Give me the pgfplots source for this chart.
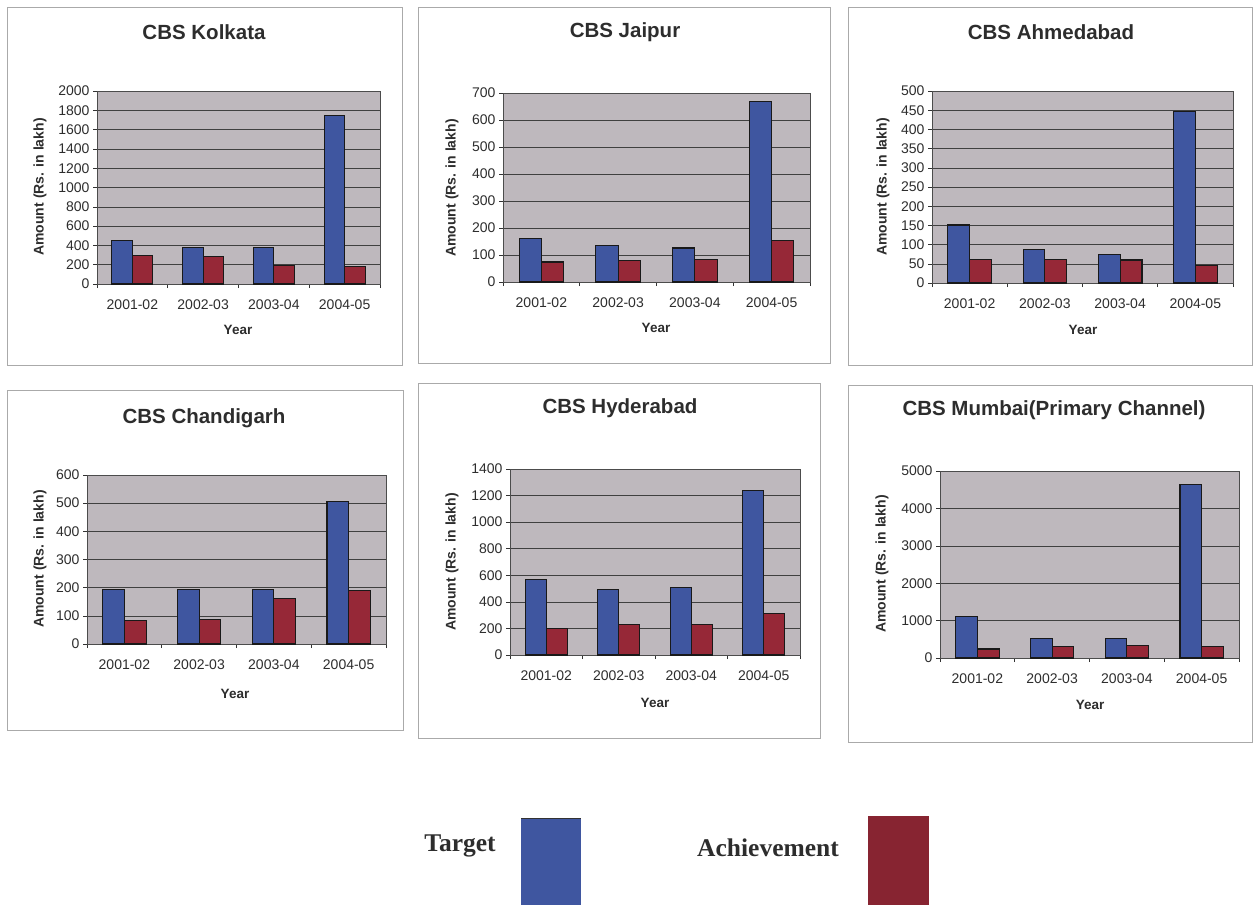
\documentclass[border=0pt]{standalone}
\usepackage{fontspec}
\setmainfont{Liberation Sans}
\newfontfamily\timesfont{Liberation Serif}
\usepackage{pgfplots}
\pgfplotsset{compat=1.18}

\definecolor{plotbg}{RGB}{190,184,189}
\definecolor{tblue}{RGB}{63,86,160}
\definecolor{tred}{RGB}{150,40,55}
\definecolor{txt}{RGB}{45,45,45}
\definecolor{frame}{RGB}{170,170,170}

\pgfplotsset{
  cbs/.style={
    scale only axis, anchor=south west,
    ybar=0pt, bar width=0.29,
    xmin=0.5, xmax=4.5, ymin=0,
    xtick={0.5,1.5,2.5,3.5,4.5},
    x tick label as interval,
    xticklabels={2001-02,2002-03,2003-04,2004-05},
    xtick pos=left, ytick pos=left,
    tick align=outside, major tick length=4pt,
    tick style={black!80, line width=0.6pt},
    ymajorgrids, grid style={black!75, line width=0.6pt},
    axis line style={black!70, line width=0.6pt},
    axis background/.style={fill=plotbg},
    ticklabel style={font=\fontsize{14}{16}\selectfont, text=txt},
    xticklabel style={yshift=-8pt},
    /pgf/number format/assume math mode=true,
    /pgf/number format/1000 sep={},
    every axis plot/.append style={draw=black!90, line width=1.1pt},
  },
  tg/.style={fill=tblue},
  ac/.style={fill=tred},
}

\newcommand{\ttl}[3]{\node[font=\fontsize{20.5}{24}\selectfont\bfseries, text=txt] at (#1pt,-#2pt) {#3};}
\newcommand{\yl}[2]{\node[font=\fontsize{14}{16}\selectfont\bfseries, text=txt, rotate=90] at (#1pt,-#2pt) {Amount (Rs. in lakh)};}
\newcommand{\xl}[2]{\node[font=\fontsize{13.5}{16}\selectfont\bfseries, text=txt] at (#1pt,-#2pt) {Year};}

\begin{document}
\begin{tikzpicture}
\path[use as bounding box] (0,0) rectangle (1255pt,-905pt);

% panel frames
\begin{scope}[draw=frame, line width=0.8pt]
\draw (7pt,-7pt) rectangle (402pt,-365pt);
\draw (418pt,-7pt) rectangle (830pt,-363pt);
\draw (848pt,-7pt) rectangle (1252pt,-365pt);
\draw (7pt,-390pt) rectangle (403pt,-730pt);
\draw (418pt,-383pt) rectangle (820pt,-738pt);
\draw (848pt,-385pt) rectangle (1252pt,-742pt);
\end{scope}

% CBS Kolkata
\begin{axis}[cbs, at={(97pt,-284pt)}, width=283pt, height=193pt,
  ymax=2000, ytick={0,200,...,2000}]
\addplot[tg] coordinates {(1,455) (2,380) (3,378) (4,1745)};
\addplot[ac] coordinates {(1,298) (2,283) (3,195) (4,178)};
\end{axis}

% CBS Jaipur
\begin{axis}[cbs, at={(503pt,-282pt)}, width=307pt, height=189pt,
  ymax=700, ytick={0,100,...,700}]
\addplot[tg] coordinates {(1,162) (2,136) (3,126) (4,667)};
\addplot[ac] coordinates {(1,74) (2,79) (3,84) (4,154)};
\end{axis}

% CBS Ahmedabad
\begin{axis}[cbs, at={(932pt,-283pt)}, width=301pt, height=192pt,
  ymax=500, ytick={0,50,...,500}]
\addplot[tg] coordinates {(1,151) (2,87) (3,75) (4,447)};
\addplot[ac] coordinates {(1,61) (2,62) (3,60) (4,46)};
\end{axis}

% CBS Chandigarh
\begin{axis}[cbs, at={(87pt,-644pt)}, width=299pt, height=169pt,
  ymax=600, ytick={0,100,...,600}]
\addplot[tg] coordinates {(1,192) (2,192) (3,192) (4,505)};
\addplot[ac] coordinates {(1,84) (2,88) (3,162) (4,190)};
\end{axis}

% CBS Hyderabad
\begin{axis}[cbs, at={(510pt,-655pt)}, width=290pt, height=186pt,
  ymax=1400, ytick={0,200,...,1400}]
\addplot[tg] coordinates {(1,570) (2,490) (3,510) (4,1237)};
\addplot[ac] coordinates {(1,200) (2,232) (3,233) (4,310)};
\end{axis}

% CBS Mumbai
\begin{axis}[cbs, at={(940pt,-658pt)}, width=299pt, height=187pt,
  ymax=5000, ytick={0,1000,...,5000}]
\addplot[tg] coordinates {(1,1115) (2,520) (3,520) (4,4640)};
\addplot[ac] coordinates {(1,240) (2,310) (3,345) (4,310)};
\end{axis}

% titles and labels
\ttl{204}{32}{CBS Kolkata}
\ttl{625}{32}{CBS Jaipur}
\ttl{1051}{32}{CBS Ahmedabad}
\ttl{204}{418}{CBS Chandigarh}
\ttl{620}{408}{CBS Hyderabad}
\ttl{1054}{410}{CBS Mumbai(Primary Channel)}

\yl{40}{187}  \xl{238}{330}
\yl{452}{188} \xl{656}{328}
\yl{883}{187} \xl{1083}{330}
\yl{40}{559}  \xl{235}{694}
\yl{452}{562} \xl{655}{703}
\yl{882}{564} \xl{1090}{705}

% legend
\node[font=\fontsize{25.5}{28}\timesfont\bfseries, text=txt] at (460pt,-846pt) {Target};
\fill[tblue] (521pt,-818pt) rectangle (581pt,-905pt);
\draw[black!80, line width=1pt] (521pt,-818pt) -- (581pt,-818pt);
\node[font=\fontsize{25.5}{28}\timesfont\bfseries, text=txt] at (768pt,-848pt) {Achievement};
\fill[tred!90!black] (868pt,-816pt) rectangle (929pt,-905pt);
\end{tikzpicture}
\end{document}
